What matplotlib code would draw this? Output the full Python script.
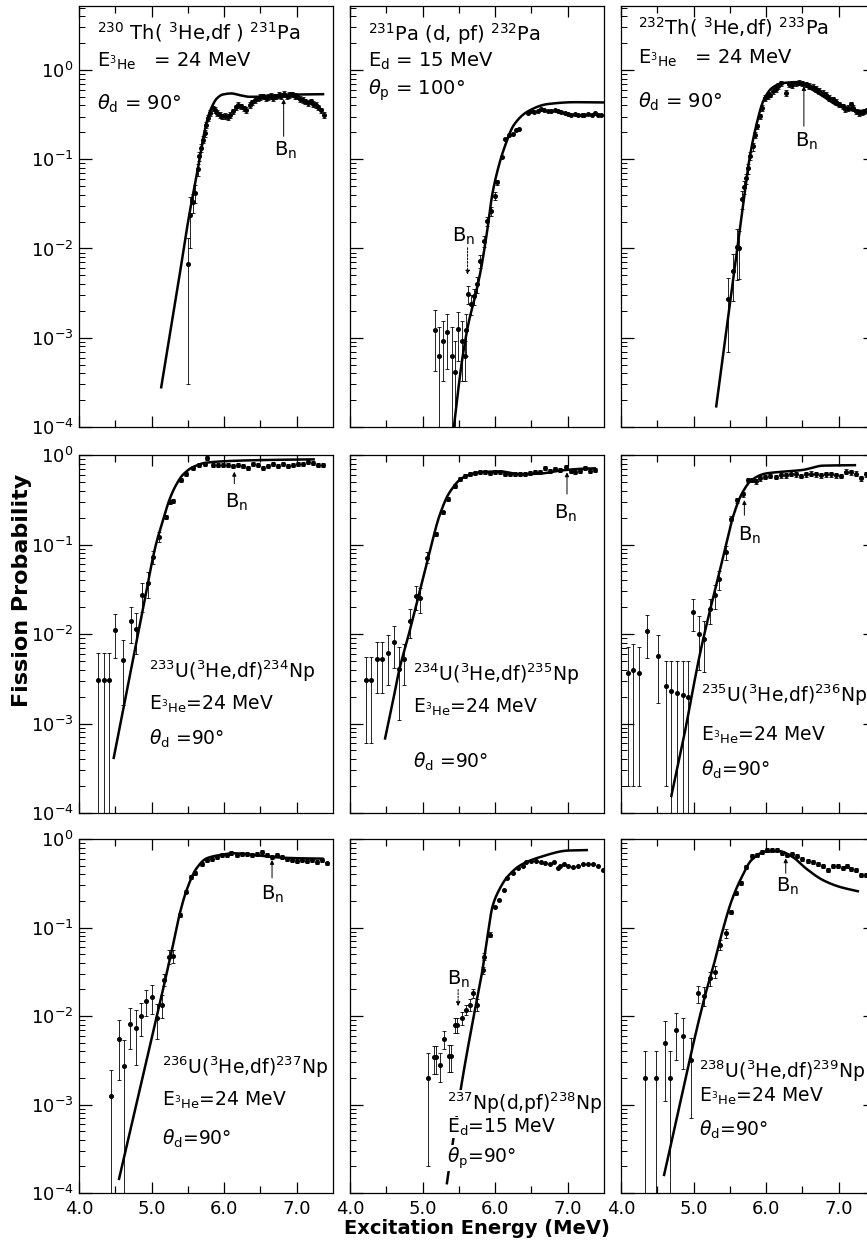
import numpy as np
import matplotlib
matplotlib.use("Agg")
import matplotlib.pyplot as plt
from matplotlib.ticker import LogLocator, FixedLocator, NullFormatter

plt.rcParams['font.family'] = ['DejaVu Sans']
plt.rcParams['mathtext.fontset'] = 'dejavusans'

# ---------------- data ----------------
# Panel 1: 230Th(3He,df)231Pa
th230_E = [5.50, 5.53, 5.57, 5.60, 5.64, 5.66, 5.68, 5.71, 5.73, 5.75, 5.78, 5.81, 5.84, 5.87, 5.90,
           5.94, 5.97, 6.01, 6.05, 6.08, 6.12, 6.16, 6.19, 6.23, 6.27, 6.30, 6.35, 6.39, 6.42, 6.46,
           6.50, 6.53, 6.57, 6.61, 6.64, 6.68, 6.72, 6.75, 6.79, 6.83, 6.86, 6.90, 6.94, 6.97, 7.01,
           7.05, 7.08, 7.12, 7.16, 7.19, 7.23, 7.27, 7.30, 7.34, 7.38]
th230_P = [0.0067, 0.024, 0.033, 0.042, 0.077, 0.108, 0.134, 0.166, 0.197, 0.244, 0.289, 0.329, 0.373, 0.358, 0.329,
           0.315, 0.302, 0.307, 0.297, 0.315, 0.343, 0.383, 0.407, 0.390, 0.373, 0.358, 0.407, 0.432, 0.463, 0.483,
           0.496, 0.504, 0.483, 0.496, 0.513, 0.483, 0.504, 0.526, 0.513, 0.540, 0.504, 0.526, 0.535, 0.513, 0.504,
           0.475, 0.463, 0.444, 0.425, 0.444, 0.418, 0.407, 0.383, 0.352, 0.315]
th230_err = [0.0064, 0.014, 0.008, 0.010, 0.012, 0.012, 0.014, 0.016, 0.018, 0.020]
th230_rel = 0.07
th230_curve_E = [5.13, 5.35, 5.52, 5.64, 5.71, 5.78, 5.84, 5.90, 5.98, 6.10, 6.22, 6.35, 6.50, 6.70, 7.00, 7.38]
th230_curve_P = [2.7e-4, 0.0033, 0.024, 0.08, 0.17, 0.30, 0.40, 0.48, 0.53, 0.545, 0.52, 0.50, 0.50, 0.52, 0.53, 0.535]
th230_Bn = (6.82, 0.18, 0.47, 6.85, 0.127)

# Panel 2: 231Pa(d,pf)232Pa
pa231_E = [5.17, 5.22, 5.28, 5.34, 5.40, 5.45, 5.49, 5.54, 5.58, 5.60, 5.63, 5.67, 5.71, 5.75, 5.79,
           5.84, 5.89, 5.94, 6.00, 6.03, 6.09, 6.14, 6.19, 6.24, 6.29, 6.33, 6.45, 6.49, 6.54, 6.59,
           6.63, 6.68, 6.73, 6.77, 6.82, 6.86, 6.91, 6.96, 7.00, 7.05, 7.10, 7.14, 7.19, 7.23, 7.28,
           7.33, 7.37, 7.42, 7.46]
pa231_P = [0.00122, 0.00062, 0.00093, 0.00115, 0.00062, 0.00041, 0.00125, 0.00093, 0.00063, 0.00123,
           0.0031, 0.0024, 0.0029, 0.0040, 0.0072, 0.0121, 0.0203, 0.026, 0.0385, 0.055,
           0.105, 0.17, 0.188, 0.19, 0.21, 0.22, 0.328, 0.343, 0.334, 0.35,
           0.364, 0.358, 0.343, 0.348, 0.358, 0.343, 0.337, 0.328, 0.32, 0.31,
           0.32, 0.314, 0.31, 0.314, 0.32, 0.314, 0.325, 0.314, 0.31]
pa231_err = [0.0008, 0.0007, 0.0006, 0.0007, 0.0007, 0.0005, 0.0007, 0.0006, 0.0003, 0.0006,
             0.0007, 0.0006, 0.0006, 0.0008, 0.0012, 0.0018, 0.0025, 0.003, 0.004, 0.004]
pa231_rel = 0.0
pa231_curve_E = [5.425, 5.48, 5.55, 5.64, 5.71, 5.80, 5.89, 5.96, 6.03, 6.125, 6.26, 6.45, 6.72, 7.10, 7.50]
pa231_curve_P = [9e-5, 2.2e-4, 6e-4, 0.00155, 0.0026, 0.0056, 0.0157, 0.040, 0.073, 0.133, 0.243, 0.343, 0.414, 0.435, 0.432]
pa231_Bn = (5.62, 0.0102, 0.0051, 5.57, 0.0138)

# Panel 3: 232Th(3He,df)233Pa
th232_E = [5.48, 5.54, 5.60, 5.62, 5.67, 5.69, 5.72, 5.75, 5.78, 5.82, 5.84, 5.88, 5.91, 5.94, 5.98,
           6.02, 6.06, 6.09, 6.13, 6.17, 6.20, 6.28, 6.31, 6.36, 6.41, 6.45, 6.50, 6.55, 6.59, 6.64,
           6.69, 6.73, 6.78, 6.82, 6.87, 6.92, 6.96, 7.01, 7.06, 7.09, 7.13, 7.17, 7.20, 7.24, 7.28,
           7.32, 7.35, 7.39, 7.43]
th232_P = [0.0027, 0.0056, 0.0104, 0.0100, 0.036, 0.049, 0.061, 0.079, 0.109, 0.139, 0.188, 0.233, 0.303, 0.376, 0.488,
           0.51, 0.53, 0.58, 0.605, 0.66, 0.707, 0.555, 0.69, 0.67, 0.707, 0.72, 0.707, 0.69, 0.66, 0.65,
           0.616, 0.58, 0.555, 0.53, 0.488, 0.467, 0.436, 0.41, 0.39, 0.367, 0.376, 0.41, 0.376, 0.345, 0.325,
           0.336, 0.345, 0.354, 0.345]
th232_err = [0.002, 0.003, 0.006, 0.0055, 0.008, 0.008, 0.008, 0.010, 0.012, 0.014]
th232_rel = 0.07
th232_curve_E = [5.31, 5.667, 5.76, 5.85, 5.97, 6.083, 6.22, 6.41, 6.59, 6.78, 6.96, 7.15, 7.40, 7.50]
th232_curve_P = [1.65e-4, 0.025, 0.09, 0.214, 0.467, 0.63, 0.71, 0.73, 0.63, 0.51, 0.41, 0.36, 0.345, 0.345]
th232_Bn = (6.52, 0.234, 0.66, 6.56, 0.159)

# Panel 4: 233U(3He,df)234Np
u233_E = [4.26, 4.34, 4.41, 4.49, 4.60, 4.71, 4.79, 4.87, 4.95, 5.02, 5.10, 5.20, 5.25, 5.29, 5.41,
          5.48, 5.57, 5.66, 5.73, 5.77, 5.84, 5.91, 5.98, 6.05, 6.12, 6.19, 6.26, 6.33, 6.40, 6.47,
          6.54, 6.60, 6.67, 6.74, 6.81, 6.88, 6.95, 7.02, 7.09, 7.16, 7.23, 7.30, 7.36]
u233_P = [0.0031, 0.0031, 0.0031, 0.011, 0.0051, 0.014, 0.0115, 0.0276, 0.037, 0.073, 0.122, 0.204, 0.30, 0.31, 0.525,
          0.62, 0.71, 0.77, 0.80, 0.92, 0.77, 0.77, 0.77, 0.77, 0.75, 0.77, 0.75, 0.71, 0.80, 0.77,
          0.71, 0.75, 0.79, 0.75, 0.79, 0.75, 0.77, 0.79, 0.79, 0.84, 0.82, 0.77, 0.77]
u233_err = [0.003, 0.003, 0.003, 0.0056, 0.0035, 0.006, 0.0055, 0.010, 0.012, 0.012, 0.015]
u233_rel = 0.05
u233_curve_E = [4.475, 4.876, 5.06, 5.152, 5.244, 5.336, 5.43, 5.567, 5.75, 6.12, 6.58, 7.25]
u233_curve_P = [4e-4, 0.018, 0.10, 0.18, 0.313, 0.46, 0.60, 0.73, 0.82, 0.86, 0.88, 0.894]
u233_Bn = (6.14, 0.48, 0.65, 6.17, 0.293)

# Panel 5: 234U(3He,df)235Np
u234_E = [4.22, 4.29, 4.37, 4.44, 4.52, 4.60, 4.67, 4.74, 4.83, 4.91, 4.96, 5.06, 5.19, 5.28, 5.35,
          5.44, 5.51, 5.58, 5.65, 5.72, 5.79, 5.86, 5.93, 6.00, 6.07, 6.13, 6.20, 6.27, 6.34, 6.41,
          6.48, 6.55, 6.62, 6.69, 6.76, 6.83, 6.90, 6.97, 7.04, 7.10, 7.17, 7.24, 7.31, 7.38]
u234_P = [0.0031, 0.0031, 0.0052, 0.0052, 0.0062, 0.0082, 0.0041, 0.0052, 0.014, 0.0266, 0.025, 0.0715, 0.13, 0.228, 0.32,
          0.446, 0.54, 0.577, 0.61, 0.63, 0.64, 0.65, 0.63, 0.65, 0.64, 0.62, 0.61, 0.61, 0.62, 0.61,
          0.63, 0.64, 0.65, 0.71, 0.67, 0.70, 0.685, 0.73, 0.67, 0.64, 0.67, 0.71, 0.67, 0.685]
u234_err = [0.0025, 0.0025, 0.003, 0.003, 0.0035, 0.004, 0.003, 0.0025, 0.005, 0.008, 0.008, 0.010]
u234_rel = 0.05
u234_curve_E = [4.48, 4.587, 4.68, 4.817, 4.956, 5.095, 5.233, 5.37, 5.557, 5.787, 6.065, 6.34, 6.62, 6.9, 7.17, 7.39]
u234_curve_P = [6.6e-4, 0.0017, 0.004, 0.0104, 0.029, 0.081, 0.21, 0.38, 0.56, 0.64, 0.656, 0.61, 0.62, 0.67, 0.70, 0.71]
u234_Bn = (6.99, 0.366, 0.64, 6.97, 0.225)

# Panel 6: 235U(3He,df)236Np
u235_E = [4.09, 4.17, 4.25, 4.36, 4.51, 4.62, 4.69, 4.77, 4.85, 4.92, 4.99, 5.07, 5.15, 5.23, 5.29,
          5.35, 5.44, 5.52, 5.60, 5.68, 5.75, 5.81, 5.86, 5.92, 5.99, 6.06, 6.13, 6.20, 6.27, 6.34,
          6.41, 6.48, 6.55, 6.62, 6.69, 6.76, 6.82, 6.89, 6.96, 7.03, 7.10, 7.17, 7.24, 7.31, 7.38]
u235_P = [0.0037, 0.004, 0.0037, 0.0109, 0.0057, 0.0026, 0.0023, 0.0022, 0.0021, 0.002, 0.0178, 0.010, 0.0088, 0.0188, 0.027,
          0.041, 0.082, 0.195, 0.313, 0.362, 0.525, 0.525, 0.51, 0.547, 0.57, 0.586, 0.57, 0.596, 0.596, 0.62,
          0.607, 0.586, 0.607, 0.62, 0.607, 0.596, 0.607, 0.607, 0.596, 0.586, 0.65, 0.64, 0.62, 0.547, 0.607]
u235_err = [0.0035, 0.0038, 0.0035, 0.0055, 0.004, 0.0024, 0.0027, 0.0028, 0.0029, 0.003, 0.007, 0.006, 0.005, 0.006, 0.008,
            0.010, 0.015]
u235_rel = 0.06
u235_curve_E = [4.69, 4.88, 4.995, 5.088, 5.2, 5.32, 5.435, 5.55, 5.667, 5.8, 5.99, 6.22, 6.5, 6.78, 7.24]
u235_curve_P = [1.5e-4, 8.0e-4, 0.0025, 0.0060, 0.015, 0.037, 0.09, 0.212, 0.372, 0.525, 0.62, 0.65, 0.68, 0.76, 0.77]
u235_Bn = (5.70, 0.212, 0.313, 5.77, 0.125)

# Panel 7: 236U(3He,df)237Np
u236_E = [4.44, 4.55, 4.62, 4.70, 4.78, 4.86, 4.93, 5.01, 5.08, 5.15, 5.17, 5.24, 5.30, 5.39, 5.48,
          5.55, 5.60, 5.69, 5.76, 5.83, 5.90, 5.97, 6.04, 6.10, 6.18, 6.24, 6.31, 6.38, 6.45, 6.52,
          6.59, 6.66, 6.73, 6.80, 6.87, 6.94, 7.00, 7.07, 7.14, 7.21, 7.28, 7.35, 7.42]
u236_P = [0.00126, 0.0055, 0.0027, 0.0082, 0.0073, 0.0099, 0.0149, 0.0166, 0.0095, 0.0134, 0.0257, 0.047, 0.048, 0.139, 0.255,
          0.376, 0.41, 0.52, 0.58, 0.60, 0.63, 0.66, 0.66, 0.69, 0.66, 0.675, 0.675, 0.66, 0.675, 0.72,
          0.66, 0.63, 0.66, 0.62, 0.59, 0.58, 0.57, 0.58, 0.57, 0.58, 0.555, 0.58, 0.53]
u236_err = [0.0012, 0.0036, 0.0027, 0.004, 0.0045, 0.004, 0.005, 0.006, 0.004, 0.004, 0.004, 0.008, 0.008]
u236_rel = 0.05
u236_curve_E = [4.548, 5.115, 5.30, 5.39, 5.484, 5.62, 5.76, 5.945, 6.13, 6.405, 6.73, 7.05, 7.37]
u236_curve_P = [1.4e-4, 0.014, 0.066, 0.145, 0.266, 0.467, 0.605, 0.66, 0.69, 0.66, 0.62, 0.605, 0.60]
u236_Bn = (6.66, 0.363, 0.58, 6.67, 0.24)

# Panel 8: 237Np(d,pf)238Np
np237_E = [5.08, 5.16, 5.19, 5.24, 5.29, 5.36, 5.39, 5.45, 5.48, 5.55, 5.60, 5.66, 5.70, 5.75, 5.83,
           5.85, 5.93, 6.00, 6.06, 6.12, 6.17, 6.24, 6.31, 6.38, 6.43, 6.49, 6.56, 6.63, 6.69, 6.75,
           6.81, 6.86, 6.90, 6.95, 7.00, 7.07, 7.14, 7.21, 7.28, 7.35, 7.42, 7.48]
np237_P = [0.002, 0.0034, 0.0034, 0.0028, 0.0055, 0.0035, 0.0035, 0.0079, 0.0079, 0.0095, 0.0117, 0.0134, 0.018, 0.0134, 0.033,
           0.047, 0.083, 0.172, 0.205, 0.266, 0.36, 0.41, 0.467, 0.49, 0.555, 0.565, 0.565, 0.555, 0.53, 0.52,
           0.555, 0.467, 0.49, 0.52, 0.49, 0.48, 0.50, 0.52, 0.52, 0.52, 0.49, 0.45]
np237_err = [0.0018, 0.0012, 0.0012, 0.001, 0.0013, 0.0012, 0.0012, 0.0015, 0.0015, 0.0015, 0.0015, 0.002, 0.002, 0.002,
             0.003, 0.004, 0.005]
np237_rel = 0.0
np237_curve_E = [5.333, 5.54, 5.747, 5.825, 5.894, 5.963, 6.055, 6.17, 6.357, 6.633, 7.0, 7.28]
np237_curve_P = [1.25e-4, 0.00175, 0.0152, 0.033, 0.079, 0.172, 0.266, 0.375, 0.51, 0.63, 0.74, 0.75]
np237_Bn = (5.49, 0.020, 0.0129, 5.49, 0.0257)

# Panel 9: 238U(3He,df)239Np
u238_E = [4.33, 4.48, 4.60, 4.67, 4.76, 4.86, 4.97, 5.06, 5.14, 5.22, 5.29, 5.36, 5.44, 5.51, 5.58,
          5.66, 5.72, 5.81, 5.88, 5.94, 6.01, 6.08, 6.15, 6.22, 6.29, 6.36, 6.43, 6.50, 6.57, 6.64,
          6.71, 6.78, 6.85, 6.92, 6.99, 7.06, 7.11, 7.17, 7.24, 7.31, 7.38]
u238_P = [0.002, 0.002, 0.0049, 0.002, 0.007, 0.006, 0.0032, 0.018, 0.017, 0.0268, 0.0318, 0.0636, 0.086, 0.151, 0.248,
          0.316, 0.48, 0.638, 0.666, 0.707, 0.745, 0.745, 0.745, 0.695, 0.666, 0.683, 0.638, 0.595, 0.56, 0.545,
          0.527, 0.492, 0.451, 0.50, 0.492, 0.47, 0.50, 0.459, 0.443, 0.396, 0.396]
u238_err = [0.002, 0.002, 0.0038, 0.002, 0.0038, 0.0035, 0.0025, 0.004, 0.004, 0.005, 0.005, 0.008, 0.010]
u238_rel = 0.05
u238_curve_E = [4.59, 5.15, 5.296, 5.39, 5.528, 5.667, 5.8, 5.99, 6.176, 6.36, 6.546, 6.78, 7.0, 7.28]
u238_curve_P = [1.55e-4, 0.016, 0.043, 0.086, 0.205, 0.376, 0.58, 0.72, 0.73, 0.63, 0.467, 0.344, 0.29, 0.255]
u238_Bn = (6.27, 0.41, 0.605, 6.30, 0.288)

# Panel labels (reaction, beam energy, angle)
labels = [
    [r"$^{230}$ Th( $^{3}$He,df ) $^{231}$Pa", r"E$_{^{3}\mathrm{He}}$   = 24 MeV", r"$\theta_\mathrm{d}$ = 90°"],
    [r"$^{231}$Pa (d, pf) $^{232}$Pa", r"E$_\mathrm{d}$ = 15 MeV", r"$\theta_\mathrm{p}$ = 100°"],
    [r"$^{232}$Th( $^{3}$He,df) $^{233}$Pa", r"E$_{^{3}\mathrm{He}}$   = 24 MeV", r"$\theta_\mathrm{d}$ = 90°"],
    [r"$^{233}$U($^{3}$He,df)$^{234}$Np", r"E$_{^{3}\mathrm{He}}$=24 MeV", r"$\theta_\mathrm{d}$ =90°"],
    [r"$^{234}$U($^{3}$He,df)$^{235}$Np", r"E$_{^{3}\mathrm{He}}$=24 MeV", r"$\theta_\mathrm{d}$ =90°"],
    [r"$^{235}$U($^{3}$He,df)$^{236}$Np", r"E$_{^{3}\mathrm{He}}$=24 MeV", r"$\theta_\mathrm{d}$=90°"],
    [r"$^{236}$U($^{3}$He,df)$^{237}$Np", r"E$_{^{3}\mathrm{He}}$=24 MeV", r"$\theta_\mathrm{d}$=90°"],
    [r"$^{237}$Np(d,pf)$^{238}$Np", r"E$_\mathrm{d}$=15 MeV", r"$\theta_\mathrm{p}$=90°"],
    [r"$^{238}$U($^{3}$He,df)$^{239}$Np", r"E$_{^{3}\mathrm{He}}$=24 MeV", r"$\theta_\mathrm{d}$=90°"],
]
xtick_labels = ["4.0", "5.0", "6.0", "7.0"]

# ---------------- layout ----------------
label_pos = [
    (4.25, [2.22, 1.08, 0.356]),
    (4.25, [2.14, 1.09, 0.525]),
    (4.23, [2.5, 1.16, 0.38]),
    (4.96, [0.0032, 0.00141, 5.75e-4]),
    (4.87, [0.0030, 0.00133, 3.2e-4]),
    (5.10, [0.00174, 6.4e-4, 2.6e-4]),
    (5.14, [0.0022, 9.7e-4, 3.5e-4]),
    (5.33, [8.7e-4, 4.8e-4, 2.2e-4]),
    (5.07, [0.0020, 0.00108, 4.4e-4]),
]

panels = [
    (th230_E, th230_P, th230_err, th230_rel, th230_curve_E, th230_curve_P, th230_Bn, False),
    (pa231_E, pa231_P, pa231_err, pa231_rel, pa231_curve_E, pa231_curve_P, pa231_Bn, True),
    (th232_E, th232_P, th232_err, th232_rel, th232_curve_E, th232_curve_P, th232_Bn, False),
    (u233_E, u233_P, u233_err, u233_rel, u233_curve_E, u233_curve_P, u233_Bn, False),
    (u234_E, u234_P, u234_err, u234_rel, u234_curve_E, u234_curve_P, u234_Bn, False),
    (u235_E, u235_P, u235_err, u235_rel, u235_curve_E, u235_curve_P, u235_Bn, False),
    (u236_E, u236_P, u236_err, u236_rel, u236_curve_E, u236_curve_P, u236_Bn, False),
    (np237_E, np237_P, np237_err, np237_rel, np237_curve_E, np237_curve_P, np237_Bn, True),
    (u238_E, u238_P, u238_err, u238_rel, u238_curve_E, u238_curve_P, u238_Bn, False),
]


def pchip(x, y, xn):
    x = np.asarray(x, float); y = np.asarray(y, float)
    h = np.diff(x); d = np.diff(y) / h
    m = np.zeros_like(y)
    for k in range(1, len(y) - 1):
        if d[k - 1] * d[k] > 0:
            w1 = 2 * h[k] + h[k - 1]; w2 = h[k] + 2 * h[k - 1]
            m[k] = (w1 + w2) / (w1 / d[k - 1] + w2 / d[k])
    m[0] = d[0]; m[-1] = d[-1]
    idx = np.clip(np.searchsorted(x, xn) - 1, 0, len(h) - 1)
    t = (xn - x[idx]) / h[idx]
    h00 = 2 * t**3 - 3 * t**2 + 1; h10 = t**3 - 2 * t**2 + t
    h01 = -2 * t**3 + 3 * t**2; h11 = t**3 - t**2
    return h00 * y[idx] + h10 * h[idx] * m[idx] + h01 * y[idx + 1] + h11 * h[idx] * m[idx + 1]


W, H = 867, 1243
fig = plt.figure(figsize=(W / 100, H / 100), dpi=100)
col_left = [79, 350, 621]
col_w = 254
rows = [(6, 427), (455, 813), (839, 1193)]
ylims = [(1e-4, 5.2), (1e-4, 1.0), (1e-4, 1.0)]

for i, (E, P, err, rel, cE, cP, bn, dashed) in enumerate(panels):
    r, c = divmod(i, 3)
    top, bot = rows[r]
    ax = fig.add_axes([col_left[c] / W, 1 - bot / H, col_w / W, (bot - top) / H])
    ax.set_yscale('log')
    ax.set_xlim(4.0, 7.5)
    ax.set_ylim(*ylims[r])
    for s in ax.spines.values():
        s.set_linewidth(0.9)

    E = np.asarray(E); P = np.asarray(P)
    sig = np.concatenate([np.asarray(err), rel * P[len(err):]])
    lower = np.minimum(sig, P - 1e-7)
    has = sig > 0
    ax.errorbar(E[has], P[has], yerr=[lower[has], sig[has]], fmt='o', ms=2.6, color='black',
                ecolor='black', elinewidth=0.6, capsize=1.6, capthick=0.6, zorder=3)
    if (~has).any():
        ax.plot(E[~has], P[~has], 'o', ms=2.6, color='black', zorder=3)

    xs = np.linspace(cE[0], cE[-1], 400)
    ys = 10 ** pchip(cE, np.log10(cP), xs)
    ax.plot(xs, ys, color='black', lw=1.8, zorder=2, solid_capstyle='butt')

    # B_n marker
    ea, pb, pt, et, ptxt = bn
    ax.annotate('', xy=(ea, pt), xytext=(ea, pb),
                arrowprops=dict(arrowstyle='-|>', lw=0.7, color='black', mutation_scale=6,
                                shrinkA=0, shrinkB=0, linestyle=(0, (2, 1.5)) if dashed else '-'))
    ax.text(et, ptxt, r"B$_\mathrm{n}$", ha='center', va='center', fontsize=14)

    # labels
    lx, lys = label_pos[i]
    fs = 14 if r == 0 else 13.5
    for txt, ly in zip(labels[i], lys):
        kw = {}
        if i == 7:
            kw['bbox'] = dict(fc='white', ec='none', pad=0.2)
        ax.text(lx, ly, txt, ha='left', va='baseline', fontsize=fs, zorder=5, **kw)

    # ticks
    ax.xaxis.set_major_locator(FixedLocator([4.0, 5.0, 6.0, 7.0]))
    ax.xaxis.set_minor_locator(FixedLocator([4.5, 5.5, 6.5]))
    if r == 2:
        ax.set_xticklabels(xtick_labels)
    else:
        ax.set_xticklabels([])
    ax.tick_params(axis='x', which='both', direction='in', top=True, bottom=True, width=0.9,
                   labelsize=13, pad=5)
    ax.tick_params(axis='x', which='major', length=8)
    ax.tick_params(axis='x', which='minor', length=5)
    ax.yaxis.set_major_locator(LogLocator(base=10, numticks=10))
    ax.yaxis.set_minor_locator(LogLocator(base=10, subs=np.arange(2, 10), numticks=12))
    ax.yaxis.set_minor_formatter(NullFormatter())
    ax.tick_params(axis='y', which='major', direction='in', length=9, width=0.9,
                   left=True, right=(c == 2), labelsize=13, pad=4, labelleft=(c == 0))
    ax.tick_params(axis='y', which='minor', direction='in', length=4, width=0.7,
                   left=True, right=False)

fig.text(22 / W, 1 - 590 / H, "Fission Probability", rotation=90, ha='center', va='center',
         fontsize=16, fontweight='bold')
fig.text(477 / W, 1 - 1229 / H, "Excitation Energy (MeV)", ha='center', va='center',
         fontsize=14, fontweight='bold')

fig.savefig("out.png", dpi=100)
